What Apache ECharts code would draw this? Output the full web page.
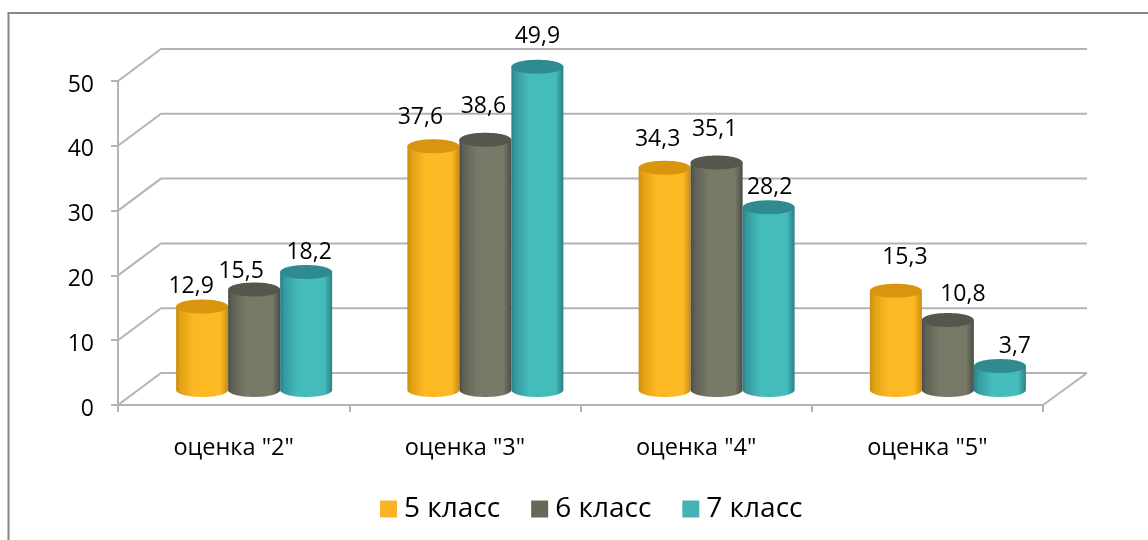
<!DOCTYPE html>
<html><head><meta charset="utf-8">
<style>html,body{margin:0;padding:0;background:#fff}#c{width:1148px;height:540px}</style>
<script src="https://cdn.jsdelivr.net/npm/echarts@6/dist/echarts.min.js"></script>
</head><body><div id="c"></div>
<script>
const categories = ['оценка "2"','оценка "3"','оценка "4"','оценка "5"'];
const class5 = [12.9,37.6,34.3,15.3];
const class6 = [15.5,38.6,35.1,10.8];
const class7 = [18.2,49.9,28.2,3.7];
const seriesNames = ['5 класс','6 класс','7 класс'];
const yTicks = [0,10,20,30,40,50];

const FONT = '"Open Sans"';
const DEPTH_X = 43, DEPTH_Y = 32;
const BAR_R = 26, BAR_RY = 7, BAR_STEP = 52, BAR_SHIFT_X = 20.5, BAR_SHIFT_Y = 15;
const palettes = [
 {legend:'#fbb325',edge:'#c98c10',mid:'#fdb924',dark:'#e2a015',top:'#d8960f'},
 {legend:'#66695a',edge:'#4a4c48',mid:'#777a66',dark:'#5f6155',top:'#55564c'},
 {legend:'#47b2b5',edge:'#2b7f87',mid:'#45bcbc',dark:'#359aa0',top:'#2f8b90'}
];
// hand placement of value labels relative to each bar's top
const labelNudge = [
 [[-11,-12],[-13,-10],[3,-12]],
 [[-13,-21],[-2,-25],[0,-22]],
 [[-7,-20],[-2,-25],[1,-12]],
 [[9,-25],[15,-18],[15,-12]]
];
const fmt = v => String(v).replace('.',',');

function wallItem(params, api){
  const cs = params.coordSys;
  const p = api.coord([0, api.value(0)]);
  const x0 = cs.x, x1 = cs.x + cs.width, y = p[1];
  const pts = [[x0,y],[x0+DEPTH_X,y-DEPTH_Y],[x1+DEPTH_X+1,y-DEPTH_Y]];
  const kids = [{type:'polyline',shape:{points:pts},style:{stroke:'#b4b4b4',lineWidth:2,fill:null}}];
  if (api.value(0) === 0) {
    kids.push({type:'polyline',shape:{points:[[x1,y],[x1+DEPTH_X+1,y-DEPTH_Y]]},style:{stroke:'#b4b4b4',lineWidth:2,fill:null}});
  }
  return {type:'group',children:kids};
}

function barRenderer(si){
  return function(params, api){
    const c = api.value(0), v = api.value(1);
    const pal = palettes[si];
    const top = api.coord([c,v]), base = api.coord([c,0]);
    const cx = base[0] + BAR_SHIFT_X + (si-1)*BAR_STEP;
    const yb = base[1] - BAR_SHIFT_Y, yt = top[1] - BAR_SHIFT_Y;
    const L = cx-BAR_R, R = cx+BAR_R;
    const k = 0.5523;
    const body = `M${L} ${yt}L${L} ${yb}C${L} ${yb+BAR_RY*k} ${cx-BAR_R*k} ${yb+BAR_RY} ${cx} ${yb+BAR_RY}C${cx+BAR_R*k} ${yb+BAR_RY} ${R} ${yb+BAR_RY*k} ${R} ${yb}L${R} ${yt}Z`;
    const grad = new echarts.graphic.LinearGradient(0,0,1,0,[
      {offset:0,color:pal.edge},{offset:0.08,color:pal.dark},{offset:0.35,color:pal.mid},
      {offset:0.85,color:pal.mid},{offset:1,color:pal.edge}]);
    const n = labelNudge[c][si];
    return {type:'group',children:[
      {type:'path',shape:{pathData:body},style:{fill:grad}},
      {type:'ellipse',shape:{cx:cx,cy:yt,rx:BAR_R,ry:BAR_RY},style:{fill:pal.top}},
      {type:'text',z2:50,style:{x:cx+n[0],y:yt-8+n[1],text:fmt(v),fill:'#000',font:'23px '+FONT,align:'center',verticalAlign:'middle'}}
    ]};
  };
}

function barSeries(i, values){
  return {name:seriesNames[i],type:'custom',z:3+i,renderItem:barRenderer(i),
    itemStyle:{color:palettes[i].legend},clip:false,
    encode:{x:0,y:1},data:values.map((v,c)=>[c,v])};
}

const chart = echarts.init(document.getElementById('c'),null,{renderer:'canvas'});
chart.setOption({
  animation:false,backgroundColor:'#fff',
  graphic:[{type:'rect',shape:{x:8.5,y:13,width:1200,height:600},style:{fill:'none',stroke:'#868686',lineWidth:2},silent:true}],
  grid:{left:118,right:105,top:81,bottom:135,containLabel:false},
  legend:{left:375,top:490,itemWidth:17,itemHeight:17,itemGap:31,icon:'rect',data:seriesNames,
    textStyle:{fontFamily:FONT,fontSize:28,color:'#000',padding:[0,0,0,2]}},
  xAxis:{type:'category',data:categories,boundaryGap:true,
    axisLine:{lineStyle:{color:'#b4b4b4',width:2}},
    axisTick:{show:true,alignWithLabel:false,length:7,lineStyle:{color:'#b4b4b4',width:2}},
    axisLabel:{interval:0,margin:31,fontFamily:FONT,fontSize:23.5,color:'#000'}},
  yAxis:{type:'value',min:0,max:50,interval:10,
    axisLine:{show:true,lineStyle:{color:'#b4b4b4',width:2}},
    axisTick:{show:true,length:7,lineStyle:{color:'#b4b4b4',width:2}},
    splitLine:{show:false},
    axisLabel:{margin:24,fontFamily:FONT,fontSize:23,color:'#000',verticalAlign:'top',lineHeight:8}},
  series:[
    {type:'custom',name:'wall',z:1,silent:true,clip:false,renderItem:wallItem,encode:{y:0},data:yTicks.map(v=>[v])},
    barSeries(0,class5),barSeries(1,class6),barSeries(2,class7)
  ]
});
</script></body></html>
